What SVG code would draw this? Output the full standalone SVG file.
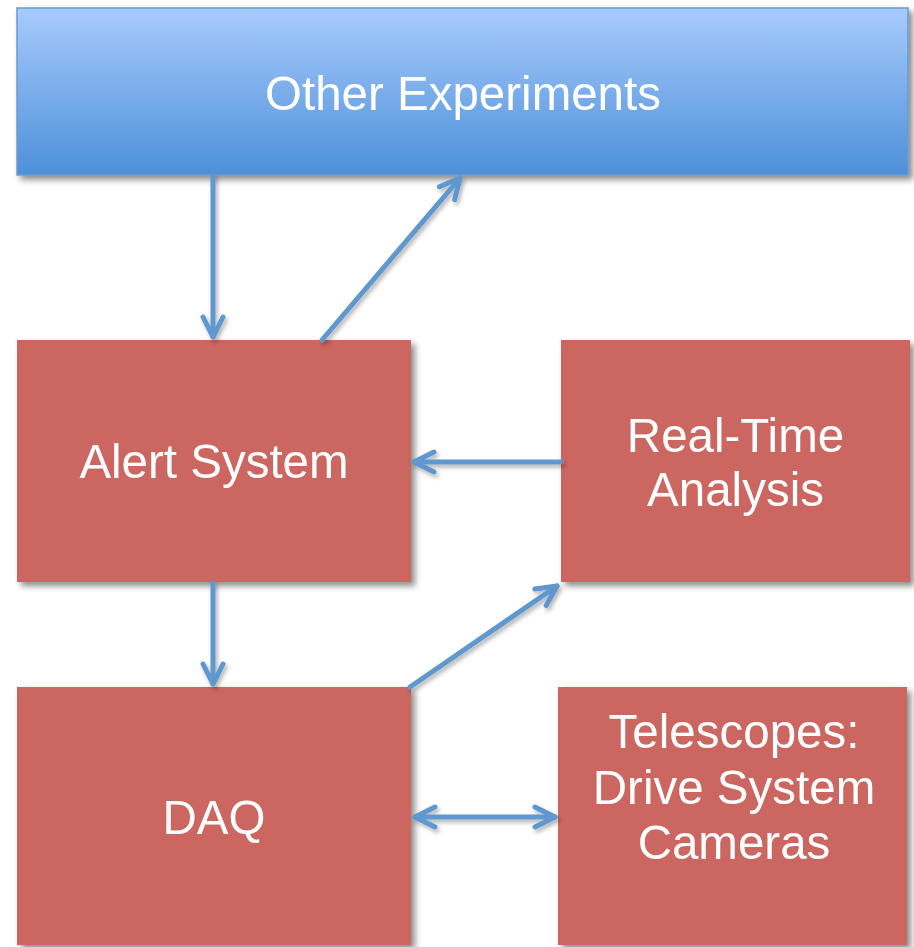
<svg xmlns="http://www.w3.org/2000/svg" width="914" height="947" viewBox="0 0 914 947">
  <style>
    .box { fill: #cc6660; }
    .label { font-family: "Liberation Sans", Arial, sans-serif; font-size: 47.5px; fill: #ffffff; text-anchor: middle; }
    .conn { fill: none; stroke: #5e97cf; stroke-width: 5; stroke-linecap: round; }
  </style>
  <defs>
    <linearGradient id="topFill" x1="0" y1="0" x2="0" y2="1">
      <stop offset="0" stop-color="#a8cbfd"/>
      <stop offset="1" stop-color="#4d90d9"/>
    </linearGradient>
    <filter id="shadow" x="-5%" y="-5%" width="115%" height="115%">
      <feDropShadow dx="4" dy="4" stdDeviation="3" flood-color="#000" flood-opacity="0.45"/>
    </filter>
    <filter id="lineShadow" x="-10%" y="-10%" width="130%" height="130%">
      <feDropShadow dx="2" dy="3" stdDeviation="2" flood-color="#000" flood-opacity="0.3"/>
    </filter>
    <marker id="head" markerUnits="userSpaceOnUse" viewBox="-26 -15 30 30" markerWidth="30" markerHeight="30" refX="0" refY="0" orient="auto-start-reverse">
      <path d="M-20,-10 L0,0 L-20,10" fill="none" stroke="#5e97cf" stroke-width="5" stroke-linecap="round" stroke-linejoin="round"/>
    </marker>
  </defs>

  <!-- nodes -->
  <g id="other-experiments" filter="url(#shadow)">
    <rect x="17" y="8" width="891" height="167" fill="url(#topFill)" stroke="#6a9ad2" stroke-width="1.5"/>
    <text class="label" x="463" y="110">Other Experiments</text>
  </g>
  <g id="alert-system" filter="url(#shadow)">
    <rect class="box" x="17" y="340" width="394" height="242"/>
    <text class="label" x="214" y="478">Alert System</text>
  </g>
  <g id="real-time-analysis" filter="url(#shadow)">
    <rect class="box" x="561" y="340" width="349" height="242"/>
    <text class="label" x="735.5" y="452">Real-Time</text>
    <text class="label" x="735.5" y="506">Analysis</text>
  </g>
  <g id="daq" filter="url(#shadow)">
    <rect class="box" x="17" y="687" width="394" height="258"/>
    <text class="label" x="214" y="834">DAQ</text>
  </g>
  <g id="telescopes" filter="url(#shadow)">
    <rect class="box" x="558" y="687" width="349" height="258"/>
    <text class="label" x="734" y="748">Telescopes:</text>
    <text class="label" x="734" y="804">Drive System</text>
    <text class="label" x="734" y="859">Cameras</text>
  </g>

  <!-- connectors -->
  <g id="connectors" filter="url(#lineShadow)">
    <line class="conn" x1="213" y1="176" x2="213" y2="337" marker-end="url(#head)"/>
    <line class="conn" x1="322" y1="340" x2="460" y2="178" marker-end="url(#head)"/>
    <line class="conn" x1="561" y1="462" x2="414" y2="462" marker-end="url(#head)"/>
    <line class="conn" x1="213" y1="583" x2="213" y2="684" marker-end="url(#head)"/>
    <line class="conn" x1="410" y1="687" x2="557" y2="586" marker-end="url(#head)"/>
    <line class="conn" x1="415" y1="817" x2="555" y2="817" marker-start="url(#head)" marker-end="url(#head)"/>
  </g>
</svg>
